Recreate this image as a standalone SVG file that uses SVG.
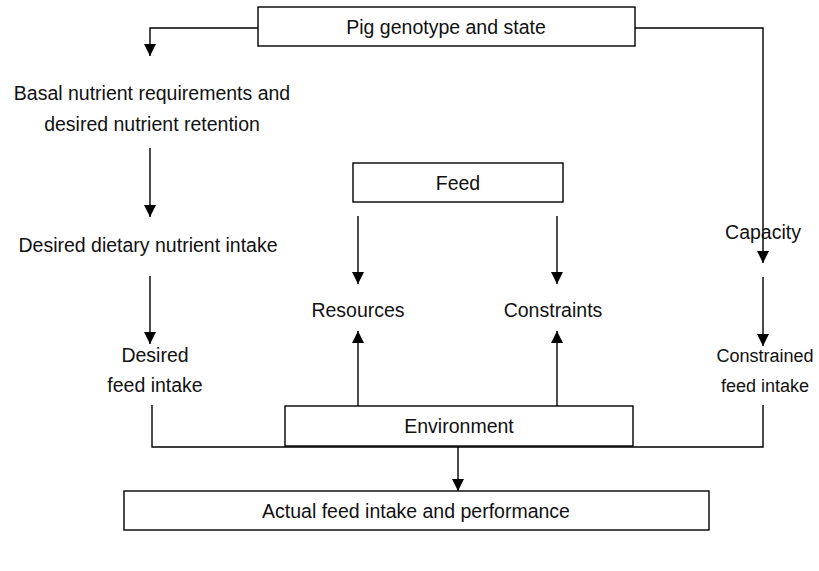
<svg xmlns="http://www.w3.org/2000/svg" width="819" height="571" viewBox="0 0 819 571">
  <style>
    .box { fill: #ffffff; stroke: #000000; stroke-width: 1.4; }
    .wire { fill: none; stroke: #000000; stroke-width: 1.4; }
    .lbl { font-family: "Liberation Sans", "DejaVu Sans", sans-serif; font-size: 19.5px; fill: #111111; text-anchor: middle; }
    .lbl-sm { font-size: 18px; }
  </style>
  <defs>
    <marker id="arrow" viewBox="0 0 12 12" refX="12" refY="6" markerWidth="12" markerHeight="12" markerUnits="userSpaceOnUse" orient="auto">
      <path d="M0,0 L12,6 L0,12 Z" fill="#000000"/>
    </marker>
  </defs>
  <rect width="819" height="571" fill="#ffffff"/>

  <g id="connectors">
    <polyline class="wire" points="258,28 150,28 150,56" marker-end="url(#arrow)"/>
    <polyline class="wire" points="635,28 763,28 763,263" marker-end="url(#arrow)"/>
    <line class="wire" x1="150" y1="148" x2="150" y2="217" marker-end="url(#arrow)"/>
    <line class="wire" x1="150" y1="276" x2="150" y2="344" marker-end="url(#arrow)"/>
    <line class="wire" x1="763" y1="277" x2="763" y2="346" marker-end="url(#arrow)"/>
    <line class="wire" x1="358" y1="216" x2="358" y2="284" marker-end="url(#arrow)"/>
    <line class="wire" x1="557" y1="216" x2="557" y2="284" marker-end="url(#arrow)"/>
    <line class="wire" x1="358" y1="406" x2="358" y2="331" marker-end="url(#arrow)"/>
    <line class="wire" x1="557" y1="406" x2="557" y2="331" marker-end="url(#arrow)"/>
    <polyline class="wire" points="152,405 152,447 763,447 763,405"/>
    <line class="wire" x1="458" y1="447" x2="458" y2="491" marker-end="url(#arrow)"/>
  </g>

  <g id="pig-genotype">
    <rect class="box" x="258" y="7" width="377" height="39"/>
    <text class="lbl" x="446" y="34">Pig genotype and state</text>
  </g>
  <g id="basal-requirements">
    <text class="lbl" x="152" y="100">Basal nutrient requirements and</text>
    <text class="lbl" x="152" y="131">desired nutrient retention</text>
  </g>
  <g id="desired-dietary-intake">
    <text class="lbl" x="148" y="252">Desired dietary nutrient intake</text>
  </g>
  <g id="desired-feed-intake">
    <text class="lbl" x="155" y="362">Desired</text>
    <text class="lbl" x="155" y="392">feed intake</text>
  </g>
  <g id="feed">
    <rect class="box" x="353" y="163" width="210" height="39"/>
    <text class="lbl" x="458" y="190">Feed</text>
  </g>
  <g id="resources">
    <text class="lbl" x="358" y="317">Resources</text>
  </g>
  <g id="constraints">
    <text class="lbl" x="553" y="317">Constraints</text>
  </g>
  <g id="environment">
    <rect class="box" x="285" y="406" width="348" height="40"/>
    <text class="lbl" x="459" y="433">Environment</text>
  </g>
  <g id="capacity">
    <text class="lbl" x="763" y="239">Capacity</text>
  </g>
  <g id="constrained-feed-intake">
    <text class="lbl lbl-sm" x="765" y="362">Constrained</text>
    <text class="lbl lbl-sm" x="765" y="392">feed intake</text>
  </g>
  <g id="actual-feed-intake">
    <rect class="box" x="124" y="491" width="585" height="39"/>
    <text class="lbl" x="416" y="518">Actual feed intake and performance</text>
  </g>
</svg>
